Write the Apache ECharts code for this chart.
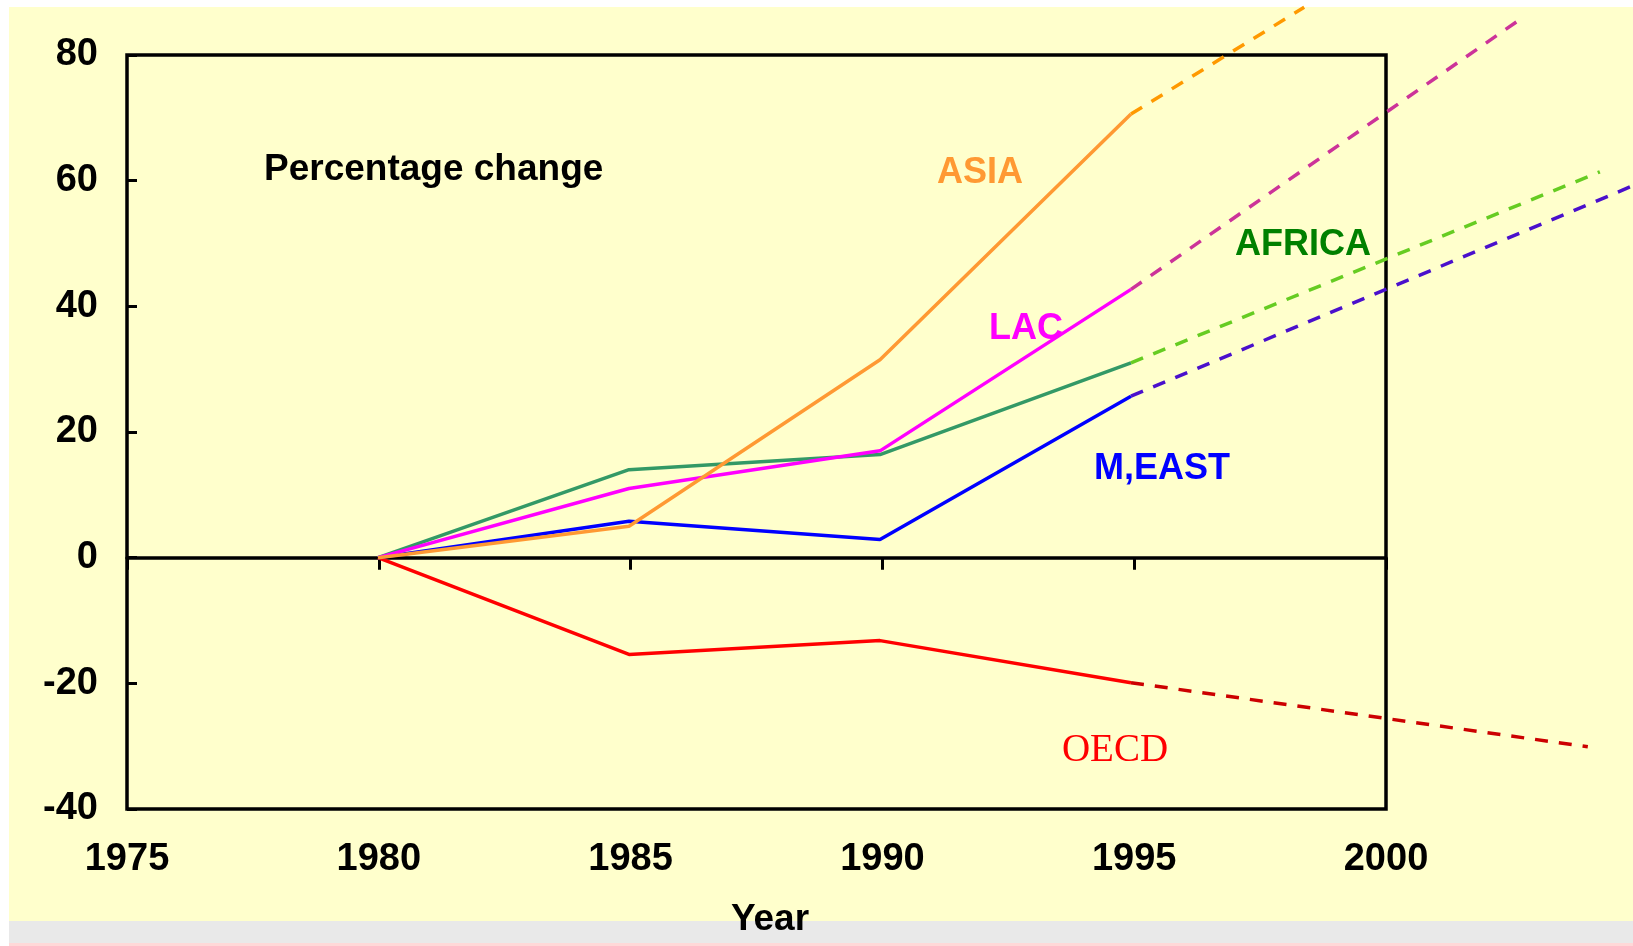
<!DOCTYPE html>
<html>
<head>
<meta charset="utf-8">
<script src="https://cdn.jsdelivr.net/npm/echarts@6/dist/echarts.min.js"></script>
<style>
  html, body { margin: 0; padding: 0; background: #ffffff; width: 1633px; height: 946px; overflow: hidden; }
  #yellow { position: absolute; left: 9px; top: 7px; width: 1624px; height: 914px; background: #FFFFCC; }
  #grey { position: absolute; left: 9px; top: 921px; width: 1624px; height: 22px; background: #E9E9E9; }
  #pink { position: absolute; left: 9px; top: 943px; width: 1624px; height: 3px; background: #FFD8D8; }
  #chart { position: absolute; left: 0; top: 0; width: 1633px; height: 946px; }
</style>
</head>
<body>
<div id="yellow"></div>
<div id="grey"></div>
<div id="pink"></div>
<div id="chart"></div>
<script>
// ---- Data ----
const years = [1980, 1985, 1990, 1995];
const asia   = [0, 5, 31.5, 70.6];
const lac    = [0, 11, 17, 42.7];
const africa = [0, 14, 16.4, 31.0];
const meast  = [0, 5.8, 2.9, 25.7];
const oecd   = [0, -15.4, -13.2, -19.9];

// projections (dashed): [year, value] start and end
const asiaProj   = [[1995, 70.6], [1998.45, 87.6]];
const lacProj    = [[1995, 42.7], [2002.72, 85.5]];
const africaProj = [[1995, 31.0], [2004.34, 61.4]];
const meastProj  = [[1995, 25.7], [2005.0, 59.2]];
const oecdProj   = [[1995, -19.9], [2004.1, -30.1]];

const xTicks = { min: 1975, max: 2000, interval: 5 };
const xExtendedMax = 2005;   // projections run beyond the framed axis
const yTicks = { min: -40, max: 80, interval: 20 };

const pairs = (vals) => years.map((y, i) => [y, vals[i]]);

const FONT = '"Liberation Sans", Arial, sans-serif';

// layout
const G = { left: 127, top: 55, width: 1259, height: 754 };
const extWidth = G.width * (xExtendedMax - xTicks.min) / (xTicks.max - xTicks.min);

function solid(name, vals, color) {
  return { name, type: 'line', xAxisIndex: 2, yAxisIndex: 1, data: pairs(vals), symbol: 'none', clip: false,
           lineStyle: { color, width: 3.5 }, z: 3 };
}
function dashed(name, data, color) {
  return { name: name + ' proj', type: 'line', xAxisIndex: 2, yAxisIndex: 1, data, symbol: 'none', clip: false,
           lineStyle: { color, width: 3.5, type: [13, 11] }, z: 3 };
}
function txt(text, x, y, color, size, align, family, weight) {
  return { type: 'text', x, y, z: 10,
           style: { text, fill: color, font: (weight || 'bold') + ' ' + size + 'px ' + (family || FONT),
                    align: align || 'center', verticalAlign: 'middle',
                    textAlign: align || 'center', textVerticalAlign: 'middle' } };
}

const chart = echarts.init(document.getElementById('chart'), null, { renderer: 'canvas' });
chart.setOption({
  backgroundColor: 'transparent',
  animation: false,
  grid: [
    { left: G.left, top: G.top, width: G.width, height: G.height, show: true,
      borderColor: '#000', borderWidth: 3.5, backgroundColor: 'transparent' },
    { left: G.left, top: G.top, width: extWidth, height: G.height, show: false }
  ],
  xAxis: [
    { gridIndex: 0, type: 'value', min: xTicks.min, max: xTicks.max, interval: xTicks.interval, position: 'bottom',
      axisLine: { show: false, onZero: false }, axisTick: { show: false }, splitLine: { show: false },
      axisLabel: { color: '#000', fontSize: 38, fontWeight: 'bold', fontFamily: FONT, margin: 32,
                   formatter: v => String(v) } },
    { gridIndex: 0, type: 'value', min: xTicks.min, max: xTicks.max, interval: xTicks.interval, position: 'bottom',
      axisLine: { show: true, onZero: true, lineStyle: { color: '#000', width: 3.5 } },
      axisTick: { show: true, inside: false, length: 12, lineStyle: { color: '#000', width: 3 } },
      splitLine: { show: false }, axisLabel: { show: false } },
    { gridIndex: 1, type: 'value', min: xTicks.min, max: xExtendedMax, show: false }
  ],
  yAxis: [
    { gridIndex: 0, type: 'value', min: yTicks.min, max: yTicks.max, interval: yTicks.interval,
      axisLine: { show: false }, splitLine: { show: false },
      axisTick: { show: true, inside: true, length: 10, lineStyle: { color: '#000', width: 3 } },
      axisLabel: { color: '#000', fontSize: 38, fontWeight: 'bold', fontFamily: FONT, margin: 29 } },
    { gridIndex: 1, type: 'value', min: yTicks.min, max: yTicks.max, show: false }
  ],
  series: [
    solid('OECD', oecd, '#FF0000'),
    solid('M,EAST', meast, '#0000FF'),
    solid('AFRICA', africa, '#339966'),
    solid('LAC', lac, '#FF00FF'),
    solid('ASIA', asia, '#FF9933'),
    dashed('OECD', oecdProj, '#CC0000'),
    dashed('M,EAST', meastProj, '#4A10CC'),
    dashed('AFRICA', africaProj, '#66CC22'),
    dashed('LAC', lacProj, '#CC3399'),
    dashed('ASIA', asiaProj, '#FF9900')
  ],
  graphic: [
    txt('Percentage change', 264, 170, '#000', 37, 'left'),
    txt('ASIA', 980, 173, '#FF9933', 36),
    txt('LAC', 1026, 329, '#FF00FF', 36),
    txt('AFRICA', 1303, 245, '#008000', 36),
    txt('M,EAST', 1162, 469, '#0000FF', 36),
    txt('OECD', 1115, 751, '#FF0000', 39, 'center', '"Liberation Serif", "Times New Roman", serif', 'normal'),
    txt('Year', 770, 920, '#000', 37)
  ]
});
</script>
</body>
</html>
